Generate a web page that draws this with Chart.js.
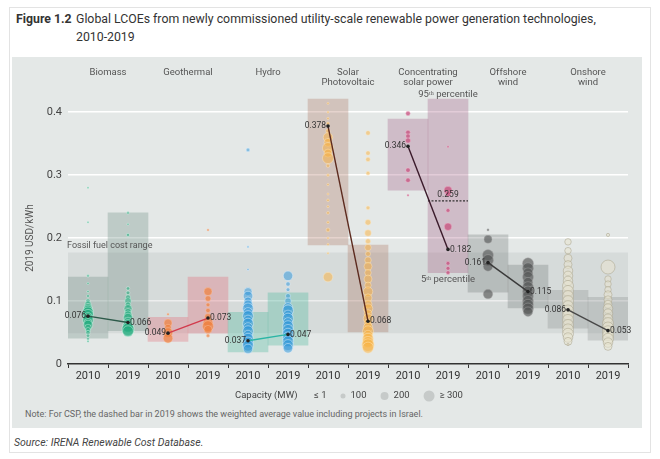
<!DOCTYPE html>
<html>
<head>
<meta charset="utf-8">
<script src="https://cdn.jsdelivr.net/npm/chart.js@4.4.0/dist/chart.umd.min.js"></script>
<style>
body{margin:0;background:#fff;font-family:Roboto,"Noto Sans",sans-serif;}
#card{position:absolute;left:9px;top:7px;width:642px;height:446px;border:1px solid #e3e3e3;box-sizing:border-box;}
#fig{position:absolute;left:16px;top:10px;font-size:12.3px;font-weight:bold;color:#333;line-height:18px;}
#title{position:absolute;left:76px;top:10px;font-size:12.3px;color:#333;line-height:18px;}
#panel{position:absolute;left:12px;top:57px;width:630px;height:371px;background:#e4e8e7;}
#note{position:absolute;left:13px;top:352px;font-size:9px;color:#666;}
#source{position:absolute;left:14px;top:436px;font-style:italic;font-size:10.5px;color:#444;}
</style>
</head>
<body>
<div id="card"></div>
<div id="fig">Figure 1.2</div>
<div id="title">Global LCOEs from newly commissioned utility-scale renewable power generation technologies,<br>2010-2019</div>
<div id="panel">
  <canvas id="mycanvas" width="630" height="350"></canvas>
  <div id="note">Note: For CSP, the dashed bar in 2019 shows the weighted average value including projects in Israel.</div>
</div>
<div id="source">Source: IRENA Renewable Cost Database.</div>
<script>
// categories
var yearLabels = ['2010','2019','2010','2019','2010','2019','2010','2019','2010','2019','2010','2019','2010','2019'];
var techNames = [['Biomass'], ['Geothermal'], ['Hydro'], ['Solar', 'Photovoltaic'], ['Concentrating', 'solar power'], ['Offshore', 'wind'], ['Onshore', 'wind']];
var yTicks = [0, 0.1, 0.2, 0.3, 0.4];
var yTickLabels = ['0', '0.1', '0.2', '0.3', '0.4'];

// weighted averages (USD/kWh)
var avg2010 = [0.076, 0.049, 0.037, 0.378, 0.346, 0.161, 0.086];
var avg2019 = [0.066, 0.073, 0.047, 0.068, 0.182, 0.115, 0.053];
var cspWithIsrael = 0.259;

// 5th - 95th percentile boxes, one per column
var boxLow  = [0.041, 0.053, 0.036, 0.049, 0.019, 0.030, 0.189, 0.051, 0.276, 0.145, 0.114, 0.089, 0.057, 0.038];
var boxHigh = [0.138, 0.240, 0.074, 0.138, 0.082, 0.113, 0.421, 0.189, 0.389, 0.421, 0.205, 0.157, 0.117, 0.106];

// fossil fuel cost range
var fossilLow = 0.049;
var fossilHigh = 0.177;

// projects: [LCOE, capacity MW]
var biomass2010 = [[0.28,1],[0.225,1],[0.14,20],[0.128,5],[0.115,10],[0.108,30],[0.1,80],[0.095,150],[0.09,200],[0.086,250],[0.082,300],[0.078,300],[0.074,250],[0.07,300],[0.066,200],[0.062,250],[0.058,150],[0.054,100],[0.05,80],[0.045,50],[0.04,30],[0.036,10]];
var biomass2019 = [[0.24,20],[0.222,5],[0.205,40],[0.12,50],[0.113,60],[0.106,100],[0.1,150],[0.094,120],[0.088,200],[0.083,150],[0.078,200],[0.073,250],[0.068,200],[0.063,250],[0.059,300],[0.055,350],[0.052,300]];
var geo2010 = [[0.079,5],[0.065,200],[0.058,150],[0.05,250],[0.041,250]];
var geo2019 = [[0.213,1],[0.115,200],[0.104,120],[0.094,60],[0.085,80],[0.075,150],[0.066,250],[0.06,300],[0.055,200],[0.045,40]];
var hydro2010 = [[0.34,60],[0.186,3],[0.15,3],[0.115,200],[0.108,250],[0.1,200],[0.094,250],[0.088,300],[0.082,250],[0.076,300],[0.07,250],[0.064,300],[0.058,250],[0.052,300],[0.046,250],[0.04,300],[0.034,300],[0.029,300],[0.024,250]];
var hydro2019 = [[0.14,250],[0.127,80],[0.118,60],[0.108,100],[0.1,150],[0.09,250],[0.085,300],[0.078,250],[0.072,300],[0.066,250],[0.06,300],[0.054,300],[0.048,300],[0.042,300],[0.036,300],[0.03,300],[0.025,250]];
var pv2010 = [[0.414,3],[0.4,5],[0.39,10],[0.382,30],[0.37,80],[0.36,250],[0.352,200],[0.343,300],[0.335,200],[0.327,300],[0.315,50],[0.3,20],[0.285,10],[0.27,5],[0.26,20],[0.25,10],[0.24,30],[0.225,20],[0.213,60],[0.2,10],[0.19,5],[0.176,3],[0.138,250]];
var pv2019 = [[0.367,80],[0.335,80],[0.325,80],[0.303,60],[0.248,60],[0.225,120],[0.208,150],[0.195,100],[0.185,150],[0.175,100],[0.165,150],[0.155,200],[0.145,150],[0.135,200],[0.125,150],[0.115,250],[0.105,200],[0.095,200],[0.088,250],[0.08,200],[0.072,250],[0.065,200],[0.058,250],[0.052,300],[0.046,250],[0.04,300],[0.035,300],[0.03,350],[0.026,300]];
var csp2010 = [[0.398,80],[0.368,80],[0.362,80],[0.355,100],[0.308,80],[0.292,80],[0.268,1]];
var csp2019 = [[0.345,1],[0.276,200],[0.27,100],[0.244,60],[0.218,180],[0.16,60],[0.152,60],[0.145,60]];
var off2010 = [[0.213,3],[0.198,200],[0.173,300],[0.165,300],[0.155,250],[0.111,250]];
var off2019 = [[0.16,300],[0.152,300],[0.145,250],[0.138,300],[0.13,250],[0.122,300],[0.115,300],[0.108,300],[0.1,300],[0.094,300],[0.088,300],[0.083,250]];
var on2010 = [[0.194,150],[0.18,150],[0.168,200],[0.158,200],[0.148,250],[0.14,250],[0.132,250],[0.124,300],[0.116,300],[0.108,300],[0.1,300],[0.092,300],[0.085,300],[0.078,300],[0.07,300],[0.062,300],[0.055,300],[0.048,300],[0.042,250],[0.036,200],[0.031,3]];
var on2019 = [[0.205,40],[0.154,400],[0.135,150],[0.127,150],[0.118,150],[0.11,200],[0.102,200],[0.095,200],[0.088,250],[0.08,250],[0.072,250],[0.065,300],[0.058,300],[0.052,300],[0.046,300],[0.04,300],[0.034,250],[0.028,200]];

var legendCaps = [1, 100, 200, 300];
var legendText = ['\u2264 1', '100', '200', '\u2265 300'];

var projects = [[biomass2010, biomass2019], [geo2010, geo2019], [hydro2010, hydro2019], [pv2010, pv2019], [csp2010, csp2019], [off2010, off2019], [on2010, on2019]];

// styles
var bubbleFill = ['rgba(30,172,124,0.55)','rgba(240,128,60,0.7)','rgba(40,148,218,0.5)','rgba(250,176,60,0.5)','rgba(198,70,120,0.7)','rgba(80,82,82,0.62)','rgba(232,228,208,0.55)'];
var bubbleEdge = ['rgba(225,250,240,0.6)','rgba(250,200,170,0.6)','rgba(225,240,255,0.7)','rgba(255,235,200,0.6)','rgba(240,190,210,0.6)','rgba(170,172,172,0.6)','rgba(165,160,135,0.7)'];
var boxFill = ['rgba(120,150,140,0.35)','rgba(225,115,125,0.35)','rgba(60,180,150,0.3)','rgba(170,110,90,0.3)','rgba(165,95,135,0.32)','rgba(110,115,115,0.3)','rgba(120,125,125,0.25)'];
var lineColors = ['#2d5a4a','#d23a4c','#2bb5a5','#5c2a1e','#3a1a2a','#3a3a3a','#484848'];

function radiusFor(cap) {
	return 1 + 1.5 * Math.min(cap, 400) / 100;
}

var datasets = [];

// fossil band (two lines filled between)
datasets.push({type:'line', data:[{x:-0.5,y:fossilHigh},{x:13.5,y:fossilHigh}], borderWidth:0, pointRadius:0, fill:false, order:20});
datasets.push({type:'line', data:[{x:-0.5,y:fossilLow},{x:13.5,y:fossilLow}], borderWidth:0, pointRadius:0, fill:'-1', backgroundColor:'rgba(150,155,155,0.17)', order:19});

// percentile boxes
var boxData = [], boxColors = [];
for (var i = 0; i < boxLow.length; i++) {
	boxData.push({x:i, y:[boxLow[i], boxHigh[i]]});
	boxColors.push(boxFill[Math.floor(i / 2)]);
}
datasets.push({type:'bar', data:boxData, backgroundColor:boxColors, barPercentage:1, categoryPercentage:1, order:10});

// project bubbles
for (var t = 0; t < projects.length; t++) {
	var pts = [];
	for (var yr = 0; yr < 2; yr++) {
		var list = projects[t][yr];
		for (var j = 0; j < list.length; j++) {
			pts.push({x:t * 2 + yr, y:list[j][0], r:radiusFor(list[j][1])});
		}
	}
	datasets.push({type:'bubble', data:pts, backgroundColor:bubbleFill[t], borderColor:bubbleEdge[t], borderWidth:0.7, order:5});
}

// weighted average lines
for (var k = 0; k < avg2010.length; k++) {
	datasets.push({type:'line', data:[{x:k*2, y:avg2010[k]}, {x:k*2+1, y:avg2019[k]}], borderColor:lineColors[k], borderWidth:1.4,
		pointRadius:1.8, pointBackgroundColor:'#222', pointBorderWidth:0, fill:false, order:1});
}

// CSP including Israel (dashed)
datasets.push({type:'line', data:[{x:8.5, y:cspWithIsrael}, {x:9.5, y:cspWithIsrael}], borderColor:'#333', borderWidth:1.2,
	borderDash:[2,1.5], pointRadius:0, fill:false, order:2});

var textPlugin = {
	id: 'texts',
	afterDraw: function(chart) {
		var ctx = chart.ctx, xs = chart.scales.x, ys = chart.scales.y;
		ctx.save();
		ctx.fillStyle = '#555';
		ctx.font = '9.5px Roboto';
		ctx.textAlign = 'center';
		ctx.textBaseline = 'middle';
		for (var t = 0; t < techNames.length; t++) {
			for (var l = 0; l < techNames[t].length; l++) {
				ctx.fillText(techNames[t][l], xs.getPixelForValue(t * 2 + 0.5), 16 + l * 10);
			}
		}
		ctx.fillText('95\u1D57\u02B0 percentile', xs.getPixelForValue(9), 38);
		ctx.fillText('5\u1D57\u02B0 percentile', xs.getPixelForValue(9), ys.getPixelForValue(boxLow[9]) + 7);
		ctx.textAlign = 'left';
		ctx.font = '9px Roboto';
		ctx.fillText('Fossil fuel cost range', chart.chartArea.left - 1, ys.getPixelForValue(fossilHigh) - 7);

		// average labels
		ctx.fillStyle = '#333';
		ctx.font = '8.5px Roboto';
		for (var k = 0; k < avg2010.length; k++) {
			ctx.textAlign = 'right';
			ctx.fillText(avg2010[k].toFixed(3), xs.getPixelForValue(k * 2) - 2, ys.getPixelForValue(avg2010[k]));
			ctx.textAlign = 'left';
			ctx.fillText(avg2019[k].toFixed(3), xs.getPixelForValue(k * 2 + 1) + 2, ys.getPixelForValue(avg2019[k]));
		}
		ctx.textAlign = 'center';
		ctx.fillText(cspWithIsrael.toFixed(3), xs.getPixelForValue(9), ys.getPixelForValue(cspWithIsrael) - 6);

		// y title
		ctx.save();
		ctx.translate(18, ys.getPixelForValue(0.2));
		ctx.rotate(-Math.PI / 2);
		ctx.fillStyle = '#555';
		ctx.font = '10px Roboto';
		ctx.fillText('2019 USD/kWh', 0, 0);
		ctx.restore();

		// capacity legend
		var ly = 339;
		ctx.fillStyle = '#444';
		ctx.font = '9.5px Roboto';
		ctx.textAlign = 'left';
		ctx.fillText('Capacity (MW)', 223, ly);
		var lx = 302;
		for (var c = 0; c < legendCaps.length; c++) {
			if (c > 0) {
				var r = radiusFor(legendCaps[c]);
				lx += r;
				ctx.beginPath();
				ctx.arc(lx, ly, r, 0, Math.PI * 2);
				ctx.fillStyle = '#c6cac9';
				ctx.fill();
				lx += r + 5;
			}
			ctx.fillStyle = '#444';
			ctx.fillText(legendText[c], lx, ly);
			lx += ctx.measureText(legendText[c]).width + 14;
		}
		ctx.restore();
	}
};

Chart.defaults.font.family = 'Roboto, sans-serif';

var ctx = document.getElementById('mycanvas');
var lcoeChart = new Chart(ctx, {
	type: 'bubble',
	data: {datasets: datasets},
	options: {
		responsive: false,
		animation: false,
		layout: {padding: {top: 30, right: 14, left: 0, bottom: 0}},
		plugins: {legend: {display: false}, tooltip: {enabled: false}},
		scales: {
			x: {
				type: 'linear', min: -0.5, max: 13.5, offset: false,
				afterBuildTicks: function(s) { s.ticks = yearLabels.map(function(_, i) { return {value: i}; }); },
				afterFit: function(s) { s.height = 43; },
				ticks: {callback: function(v, i) { return yearLabels[i]; }, color: '#333', font: {size: 11}, padding: 2, autoSkip: false, maxRotation: 0},
				grid: {offset: true, drawOnChartArea: false, drawTicks: true, tickLength: 4, color: '#333', lineWidth: 1},
				border: {display: true, color: '#333', width: 1.5}
			},
			y: {
				min: 0, max: 0.44,
				afterBuildTicks: function(s) { s.ticks = yTicks.map(function(v) { return {value: v}; }); },
				afterFit: function(s) { s.width = 56; },
				ticks: {callback: function(v, i) { return yTickLabels[i]; }, color: '#444', font: {size: 11}, padding: 6},
				grid: {color: function(c) { return c.tick && c.tick.value === 0 ? 'rgba(0,0,0,0)' : '#ffffff'; }, lineWidth: 1.5, drawTicks: false},
				border: {display: false}
			}
		}
	},
	plugins: [textPlugin]
});
</script>
</body>
</html>
